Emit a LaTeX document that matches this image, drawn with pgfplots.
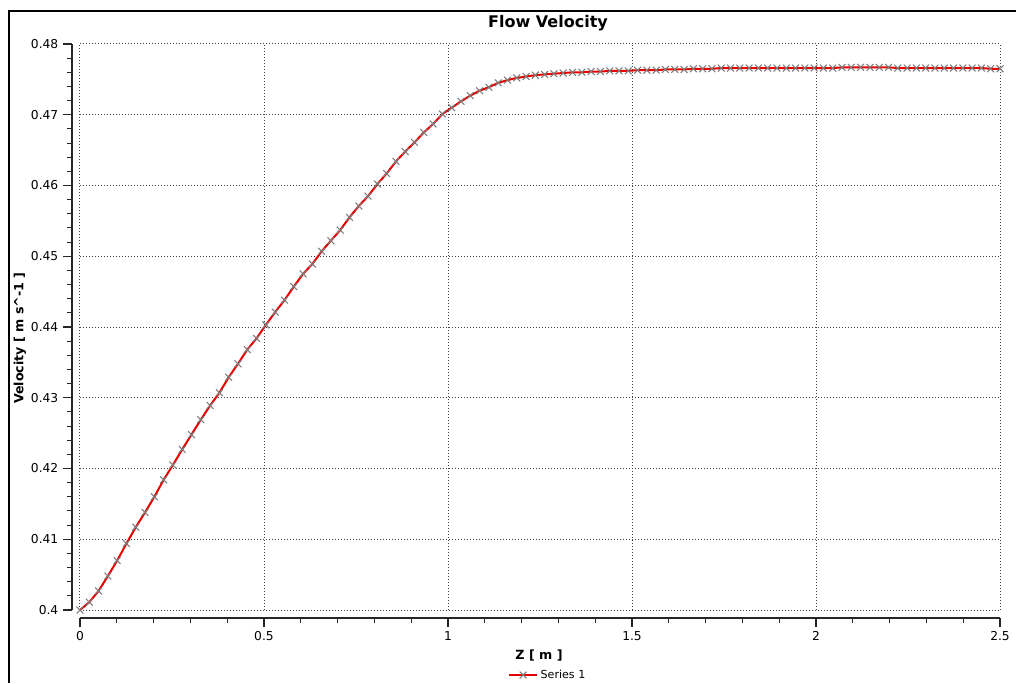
\documentclass[border=0pt]{standalone}
\usepackage{fontspec}
\setmainfont{DejaVu Sans}
\usepackage{pgfplots}
\pgfplotsset{compat=1.18}
\definecolor{lred}{RGB}{232,0,0}
\definecolor{mgray}{RGB}{125,125,125}
\begin{document}
\begin{tikzpicture}[x=1pt,y=1pt]
\useasboundingbox (-60,-54.75) rectangle (702,457.5);
\draw[line width=1.5pt] (-54,449.25) -- (702,449.25);
\draw[line width=1.5pt] (-53.25,449.25) -- (-53.25,-54.75);
\begin{axis}[
  at={(0pt,0pt)}, anchor=south west,
  width=690pt, height=424.5pt, scale only axis,
  xmin=0, xmax=2.5, ymin=0.4, ymax=0.48,
  axis lines=left,
  axis line style={-, line width=0.8pt, black!85},
  axis x line shift=6pt, axis y line shift=6pt,
  xtick={0,0.5,1,1.5,2,2.5},
  ytick={0.40,0.41,0.42,0.43,0.44,0.45,0.46,0.47,0.48},
  minor tick num=4,
  tick align=outside,
  major tick length=6.75pt, minor tick length=3.75pt,
  every tick/.style={black!85, line width=0.8pt},
  grid=major,
  grid style={dash pattern=on 0.75pt off 1.5pt, black!75, line width=0.75pt},
  /pgf/number format/assume math mode=true,
  tick label style={font=\fontsize{9.2}{10}\selectfont},
  xticklabel style={/pgf/number format/fixed},
  yticklabel style={/pgf/number format/fixed, /pgf/number format/precision=2},
  legend style={at={(0.5087,-0.1149)}, anchor=center, draw=none, fill=none,
    font=\fontsize{8.3}{9}\selectfont, inner sep=1pt},
  legend image code/.code={\draw[mark repeat=2,mark phase=2,#1] plot coordinates {(0pt,0pt) (10.5pt,0pt) (21pt,0pt)};},
  clip=false,
]
\addplot[color=lred, line width=1.5pt, mark=x, mark size=3.6pt,
  mark options={draw=mgray, line width=0.8pt, solid}] coordinates {
(0.0000,0.4000) (0.0253,0.4011) (0.0505,0.4027) (0.0758,0.4048) (0.1010,0.4070)
(0.1263,0.4094) (0.1515,0.4117) (0.1768,0.4138) (0.2020,0.4160) (0.2273,0.4184)
(0.2525,0.4205) (0.2778,0.4227) (0.3030,0.4248) (0.3283,0.4269) (0.3535,0.4289)
(0.3788,0.4307) (0.4040,0.4329) (0.4293,0.4348) (0.4545,0.4368) (0.4798,0.4384)
(0.5051,0.4403) (0.5303,0.4421) (0.5556,0.4438) (0.5808,0.4457) (0.6061,0.4475)
(0.6313,0.4489) (0.6566,0.4507) (0.6818,0.4522) (0.7071,0.4537) (0.7323,0.4555)
(0.7576,0.4571) (0.7828,0.4585) (0.8081,0.4602) (0.8333,0.4617) (0.8586,0.4634)
(0.8838,0.4648) (0.9091,0.4661) (0.9343,0.4675) (0.9596,0.4687) (0.9848,0.4701)
(1.0101,0.4710) (1.0354,0.4719) (1.0606,0.4727) (1.0859,0.4734) (1.1111,0.4739)
(1.1364,0.4745) (1.1616,0.4749) (1.1869,0.4752) (1.2121,0.4754) (1.2374,0.4756)
(1.2626,0.4757) (1.2879,0.4758) (1.3131,0.4759) (1.3384,0.4760) (1.3636,0.4760)
(1.3889,0.4761) (1.4141,0.4761) (1.4394,0.4762) (1.4646,0.4762) (1.4899,0.4762)
(1.5152,0.4763) (1.5404,0.4763) (1.5657,0.4763) (1.5909,0.4764) (1.6162,0.4764)
(1.6414,0.4764) (1.6667,0.4765) (1.6919,0.4765) (1.7172,0.4765) (1.7424,0.4766)
(1.7677,0.4766) (1.7929,0.4766) (1.8182,0.4766) (1.8434,0.4766) (1.8687,0.4766)
(1.8939,0.4766) (1.9192,0.4766) (1.9444,0.4766) (1.9697,0.4766) (1.9949,0.4766)
(2.0202,0.4766) (2.0455,0.4766) (2.0707,0.4767) (2.0960,0.4767) (2.1212,0.4767)
(2.1465,0.4767) (2.1717,0.4767) (2.1970,0.4767) (2.2222,0.4766) (2.2475,0.4766)
(2.2727,0.4766) (2.2980,0.4766) (2.3232,0.4766) (2.3485,0.4766) (2.3737,0.4766)
(2.3990,0.4766) (2.4242,0.4766) (2.4495,0.4766) (2.4747,0.4765) (2.5000,0.4765)
};
\addlegendentry{Series 1}
\end{axis}
\node[font=\bfseries\fontsize{12}{14}\selectfont] at (351,440.25) {Flow Velocity};
\node[font=\bfseries\fontsize{9.5}{11}\selectfont] at (344.25,-34.5) {Z [ m ]};
\node[rotate=90, font=\bfseries\fontsize{9.5}{11}\selectfont] at (-45,204) {Velocity [ m s\textasciicircum-1 ]};
\end{tikzpicture}
\end{document}
